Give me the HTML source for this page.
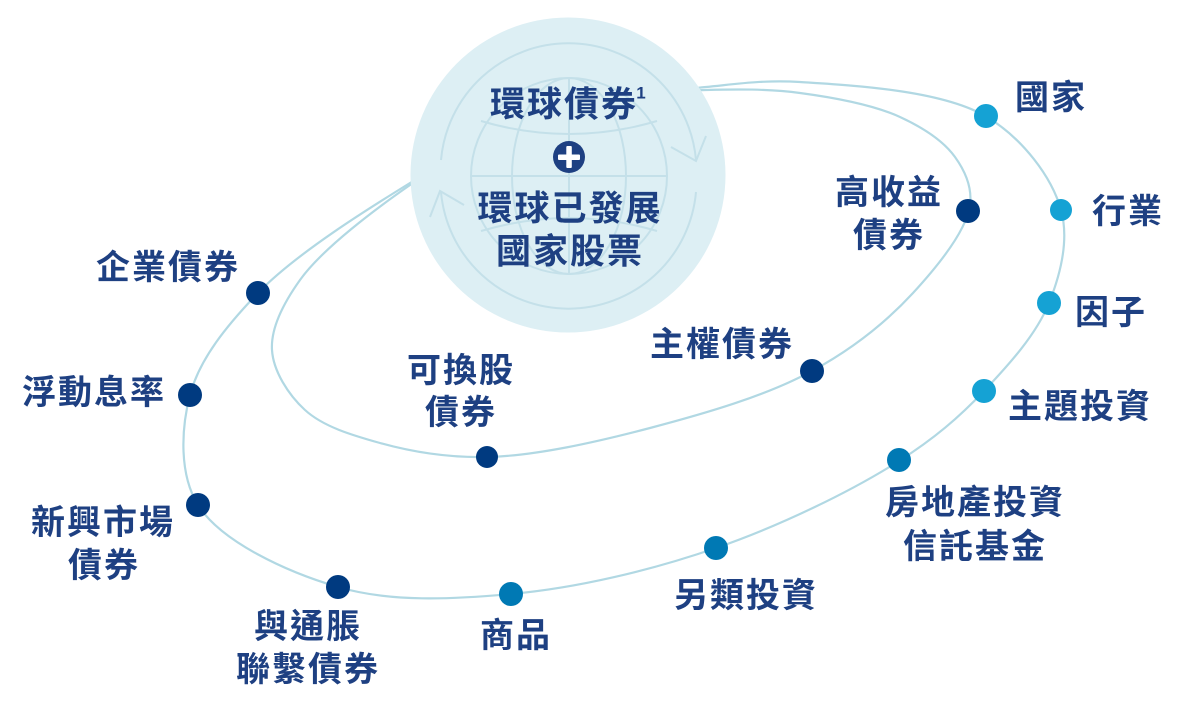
<!DOCTYPE html>
<html><head><meta charset="utf-8">
<style>
html,body{margin:0;padding:0;background:#fff;}
svg{display:block;}
text{font-family:"Liberation Sans","Noto Sans CJK TC","Noto Sans CJK SC",sans-serif;font-weight:700;fill:#1e4082;font-size:34px;letter-spacing:2px;}
</style></head>
<body>
<svg width="1184" height="710" viewBox="0 0 1184 710" xmlns="http://www.w3.org/2000/svg">
<path id="outer" d="" fill="none" stroke="#b1d8e3" stroke-width="2.2"/>
<path id="inner" d="" fill="none" stroke="#b1d8e3" stroke-width="2.2"/>

<circle cx="568" cy="175" r="157.5" fill="#ddeff4"/>
<g fill="none" stroke="#c4e0e9" stroke-width="2">
  <circle cx="569" cy="176" r="98"/>
  <ellipse cx="569" cy="176" rx="57" ry="98"/>
  <line x1="569" y1="78" x2="569" y2="274"/>
  <line x1="471" y1="176" x2="667" y2="176"/>
  <path d="M481,121 Q569,147 657,121"/>
  <path d="M481,231 Q569,205 657,231"/>
  <path d="M441,160 A128,128 0 0 1 696,160"/>
  <path d="M671,147 L696,161 L706,136"/>
  <path d="M696,192 A128,128 0 0 1 441,192"/>
  <path d="M430,217 L440,191 L464,205"/>
</g>

<text x="564" y="105" text-anchor="middle" dominant-baseline="central" style="font-size:35px">環球債券</text>
<text x="641" y="93" text-anchor="middle" dominant-baseline="central" style="font-size:17px;letter-spacing:0">1</text>
<circle cx="569" cy="157" r="16" fill="#1e4082"/>
<rect x="558" y="154.5" width="22" height="5.5" rx="1" fill="#fff"/>
<rect x="566.3" y="146" width="5.5" height="22" rx="1" fill="#fff"/>
<text x="570" y="209" text-anchor="middle" dominant-baseline="central" style="font-size:35px">環球已發展</text>
<text x="570" y="252" text-anchor="middle" dominant-baseline="central" style="font-size:35px">國家股票</text>

<text x="1051" y="98" text-anchor="middle" dominant-baseline="central">國家</text>
<text x="1128" y="212" text-anchor="middle" dominant-baseline="central">行業</text>
<text x="1111" y="313" text-anchor="middle" dominant-baseline="central">因子</text>
<text x="1080" y="407" text-anchor="middle" dominant-baseline="central">主題投資</text>
<text x="975" y="503" text-anchor="middle" dominant-baseline="central">房地產投資</text>
<text x="975" y="547" text-anchor="middle" dominant-baseline="central">信託基金</text>
<text x="746" y="596" text-anchor="middle" dominant-baseline="central">另類投資</text>
<text x="516" y="636" text-anchor="middle" dominant-baseline="central">商品</text>
<text x="308" y="627" text-anchor="middle" dominant-baseline="central">與通脹</text>
<text x="308" y="670" text-anchor="middle" dominant-baseline="central">聯繫債券</text>
<text x="103" y="523" text-anchor="middle" dominant-baseline="central">新興市場</text>
<text x="104" y="566" text-anchor="middle" dominant-baseline="central">債券</text>
<text x="94" y="393" text-anchor="middle" dominant-baseline="central">浮動息率</text>
<text x="168" y="268" text-anchor="middle" dominant-baseline="central">企業債券</text>
<text x="461" y="371" text-anchor="middle" dominant-baseline="central">可換股</text>
<text x="461" y="413" text-anchor="middle" dominant-baseline="central">債券</text>
<text x="722" y="345" text-anchor="middle" dominant-baseline="central">主權債券</text>
<text x="889" y="193" text-anchor="middle" dominant-baseline="central">高收益</text>
<text x="889" y="236" text-anchor="middle" dominant-baseline="central">債券</text>

<g fill="#003a80">
  <circle cx="258" cy="293" r="12"/>
  <circle cx="190" cy="395" r="12"/>
  <circle cx="198" cy="505" r="12"/>
  <circle cx="338" cy="587" r="12"/>
  <circle cx="487" cy="457" r="11"/>
  <circle cx="812" cy="371" r="12"/>
  <circle cx="968" cy="211" r="12"/>
</g>
<g fill="#0079b4">
  <circle cx="511" cy="594" r="12"/>
  <circle cx="716" cy="548" r="12"/>
  <circle cx="899" cy="460" r="12"/>
</g>
<g fill="#15a2d4">
  <circle cx="986" cy="116" r="12"/>
  <circle cx="1061" cy="210" r="11"/>
  <circle cx="1049" cy="303" r="12"/>
  <circle cx="984" cy="391" r="12"/>
</g>
</svg>
<script>
function cr(pts){
  var a=0.5;
  function dist(p,q){var dx=p[0]-q[0],dy=p[1]-q[1];return Math.max(Math.sqrt(dx*dx+dy*dy),0.001);}
  var d="M"+pts[0][0]+","+pts[0][1];
  for(var i=0;i<pts.length-1;i++){
    var p0=pts[i-1]||pts[i],p1=pts[i],p2=pts[i+1],p3=pts[i+2]||pts[i+1];
    if(i===0){p0=[2*p1[0]-p2[0],2*p1[1]-p2[1]];}
    if(i===pts.length-2){p3=[2*p2[0]-p1[0],2*p2[1]-p1[1]];}
    var d1=dist(p0,p1),d2=dist(p1,p2),d3=dist(p2,p3);
    var d1a=Math.pow(d1,a),d2a=Math.pow(d2,a),d3a=Math.pow(d3,a);
    var d1b=Math.pow(d1,2*a),d2b=Math.pow(d2,2*a),d3b=Math.pow(d3,2*a);
    var c1=[],c2=[];
    for(var k=0;k<2;k++){
      c1[k]=(d1b*p2[k]-d2b*p0[k]+(2*d1b+3*d1a*d2a+d2b)*p1[k])/(3*d1a*(d1a+d2a));
      c2[k]=(d3b*p1[k]-d2b*p3[k]+(2*d3b+3*d3a*d2a+d2b)*p2[k])/(3*d3a*(d3a+d2a));
    }
    d+=" C"+c1[0].toFixed(1)+","+c1[1].toFixed(1)+" "+c2[0].toFixed(1)+","+c2[1].toFixed(1)+" "+p2[0]+","+p2[1];
  }
  return d;
}
var outer=[[640,96],[706,87],[800,82],[987,117],[1061,210],[1049,303],[984,391],[899,461],[716,548],[511,594],[338,587],[198,505],[190,395],[258,293],[410,183],[470,152]];
var inner=[[640,96],[706,90],[800,93],[900,117],[955,157],[970,205],[913,293],[812,371],[650,428],[487,457],[380,443],[305,410],[272,350],[300,280],[410,185],[470,152]];
document.getElementById("outer").setAttribute("d",cr(outer));
document.getElementById("inner").setAttribute("d",cr(inner));
</script>
</body></html>
